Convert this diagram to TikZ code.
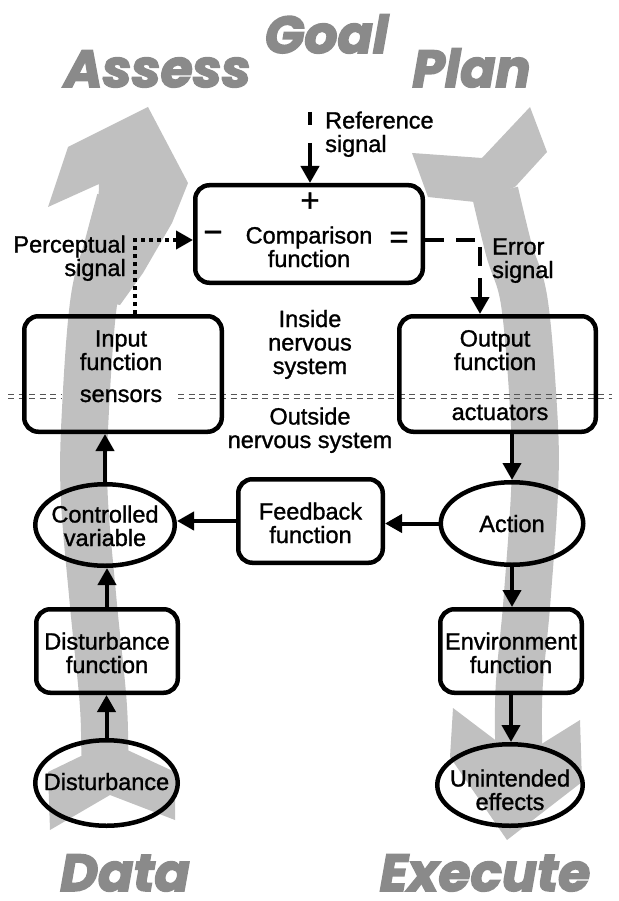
\documentclass[tikz,border=0pt]{standalone}
\usepackage{fontspec}
\setmainfont{Liberation Sans}[FakeBold=1.2]
\newfontfamily\titlefont{Poppins}[BoldItalicFeatures={FakeBold=3}]
\usetikzlibrary{arrows.meta,shapes.geometric}

\definecolor{bandgrey}{RGB}{192,192,192}
\definecolor{titlegrey}{RGB}{138,138,138}
\definecolor{rulegrey}{RGB}{85,85,85}

\tikzset{
  fnbox/.style={draw, line width=4.5pt, rounded corners=14pt, inner sep=0pt},
  varell/.style={draw, ellipse, line width=4.5pt, inner sep=0pt},
  lbl/.style={font=\fontsize{23.5}{23.5}\selectfont, inner sep=0pt, align=center},
  sign/.style={font=\fontsize{33}{33}\selectfont, inner sep=0pt},
  flow/.style={line width=4pt, -{Triangle[length=17pt,width=18pt]}},
  refline/.style={flow, dash pattern=on 13pt off 18pt on 60pt off 0pt},
  errline/.style={flow, dash pattern=on 19pt off 12pt},
  percline/.style={flow, dash pattern=on 4pt off 4pt},
  bigword/.style={font=\titlefont\bfseries\itshape\fontsize{52}{52}\selectfont,
                  text=titlegrey, inner sep=0pt, anchor=base, text depth=0pt},
  band/.style={draw=bandgrey, line width=47pt, line cap=butt},
  nsline/.style={rulegrey, line width=0.9pt, dash pattern=on 6pt off 4.5pt},
}

\begin{document}
\begin{tikzpicture}[x=1pt, y=-1pt]
\useasboundingbox (0,0) rectangle (618,901);

% ---- broad grey loop arrows (behind everything) ----
% left band: rises from the Data tail to the Assess head
\draw[band] plot[smooth, tension=0.6] coordinates
  {(107,792) (105,755) (103,700) (93,600) (84,490) (86,400) (94,300) (108,245) (120,200)};
\fill[bandgrey] (148,107) -- (188,183) -- (172,223) -- (143,273) -- (120,305) -- (95,300)
  -- (99,184) -- (48,207) -- (68,147) -- cycle;
\fill[bandgrey] (48,772) -- (110,742) -- (175,772) -- (175,820) -- (110,795)
  -- (50,830) -- cycle;
% right band: falls from the Plan tail to the Execute head
\draw[band] plot[smooth, tension=0.6] coordinates
  {(495,192) (509,250) (524,300) (533,400) (535,480) (527,600) (519,690) (519,762)};
\fill[bandgrey] (412,153) -- (482,158) -- (530,107) -- (547,152) -- (515,187)
  -- (475,202) -- (428,197) -- cycle;
\fill[bandgrey] (453,708) -- (519,758) -- (580,720) -- (582,782) -- (507,840)
  -- (450,757) -- cycle;

% ---- big grey words ----
\node[bigword] (assess)  at (157.5,87) {Assess};
\node[bigword] (goal)    at (326.5,53) {Goal};
\node[bigword] (plan)    at (471.5,87) {Plan};
\node[bigword] (data)    at (125,891)  {Data};
\node[bigword] (execute) at (485,891)  {Execute};

% ---- boundary of the nervous system ----
\coordinate (nsA) at (8,394.5);   \coordinate (nsB) at (62,394.5);
\coordinate (nsC) at (178,394.5); \coordinate (nsD) at (612,394.5);
\coordinate (nsE) at (8,398.5);   \coordinate (nsF) at (62,398.5);
\coordinate (nsG) at (178,398.5); \coordinate (nsH) at (612,398.5);
\draw[nsline] (nsA) -- (nsB);
\draw[nsline] (nsC) -- (nsD);
\draw[nsline] (nsE) -- (nsF);
\draw[nsline] (nsG) -- (nsH);

% ---- function boxes and variables ----
\node[fnbox, minimum width=227.5pt, minimum height=97.5pt] (cmp)    at (309,234) {};
\node[fnbox, minimum width=197.5pt, minimum height=115.5pt] (input) at (123,374) {};
\node[fnbox, minimum width=196.5pt, minimum height=115.5pt] (output) at (497.5,374) {};
\node[fnbox, minimum width=144.5pt, minimum height=83.5pt] (feedback) at (310.5,521) {};
\node[fnbox, minimum width=141.5pt, minimum height=83.5pt] (distfn) at (107,651) {};
\node[fnbox, minimum width=141.5pt, minimum height=83.5pt] (envfn)  at (511,651) {};
\node[varell, minimum width=139.5pt, minimum height=81.5pt] (cv)     at (105,525) {};
\node[varell, minimum width=142.5pt, minimum height=82.5pt] (action) at (512,523.5) {};
\node[varell, minimum width=142.5pt, minimum height=85.5pt] (dist)   at (106.5,783) {};
\node[varell, minimum width=145.5pt, minimum height=81.5pt] (unint)  at (510,785) {};

% ---- texts ----
\node[sign] (plus)  at (310,202) {+};
\node[sign] (minus) at (213,237) {−};
\node[sign] (equal) at (399,240) {=};
\node[lbl, anchor=base] (cmptext) at ([yshift=-33pt]cmp) {Comparison\\function};
\node[lbl, anchor=base] (intext)  at ([xshift=-2pt,yshift=4pt]input) {Input\\function};
\node[lbl, anchor=base] (sensors) at ([xshift=-2pt,yshift=-28pt]input) {sensors};
\node[lbl, anchor=base] (outtext) at ([xshift=-2.5pt,yshift=4pt]output) {Output\\function};
\node[lbl, anchor=base] (actuators) at ([xshift=2.5pt,yshift=-46pt]output) {actuators};
\node[lbl, anchor=base] (fbtext)  at ([yshift=-22pt]feedback) {Feedback\\function};
\node[lbl, anchor=base] (dftext)  at ([yshift=-22pt]distfn) {Disturbance\\function};
\node[lbl, anchor=base] (eftext)  at ([yshift=-22pt]envfn) {Environment\\function};
\node[lbl, anchor=base] (cvtext)  at ([yshift=-21pt]cv) {Controlled\\variable};
\node[lbl, anchor=base] (actext)  at ([yshift=-8.5pt]action) {Action};
\node[lbl, anchor=base] (dtext)   at ([yshift=-7pt]dist) {Disturbance};
\node[lbl, anchor=base] (uetext)  at ([yshift=-25pt]unint) {Unintended\\effects};
\node[lbl, anchor=base west, align=left]  (reflbl)  at (325,152) {Reference\\signal};
\node[lbl, anchor=base east, align=right] (perclbl) at (126,276) {Perceptual\\signal};
\node[lbl, anchor=base west, align=left] (errlbl) at (492,278) {Error\\signal};
\node[lbl, anchor=base] (inside)  at (310,374) {Inside\\nervous\\system};
\node[lbl, anchor=base] (outside) at (310,448) {Outside\\nervous system};

% ---- signal connectors ----
\coordinate (refstart) at (310,112);
\draw[refline] (refstart) -- (refstart |- cmp.north);
\draw[percline] ([xshift=12pt]input.north) |- ([yshift=-6pt]cmp.west);
\draw[errline] ([yshift=-6pt]cmp.east) -| ([xshift=-17.5pt]output.north);

% ---- environment loop ----
\draw[flow] (action.north |- output.south) -- (action.north);
\draw[flow] (action.south) -- (action.south |- envfn.north);
\draw[flow] (envfn.south) -- (envfn.south |- unint.north);
\draw[flow] (action.west) -- (action.west -| feedback.east);
\draw[flow] (feedback.west) -- (feedback.west -| cv.east);
\draw[flow] (dist.north) -- (dist.north |- distfn.south);
\draw[flow] (distfn.north) -- (distfn.north |- cv.south);
\draw[flow] (cv.north) -- (cv.north |- input.south);
\end{tikzpicture}
\end{document}
